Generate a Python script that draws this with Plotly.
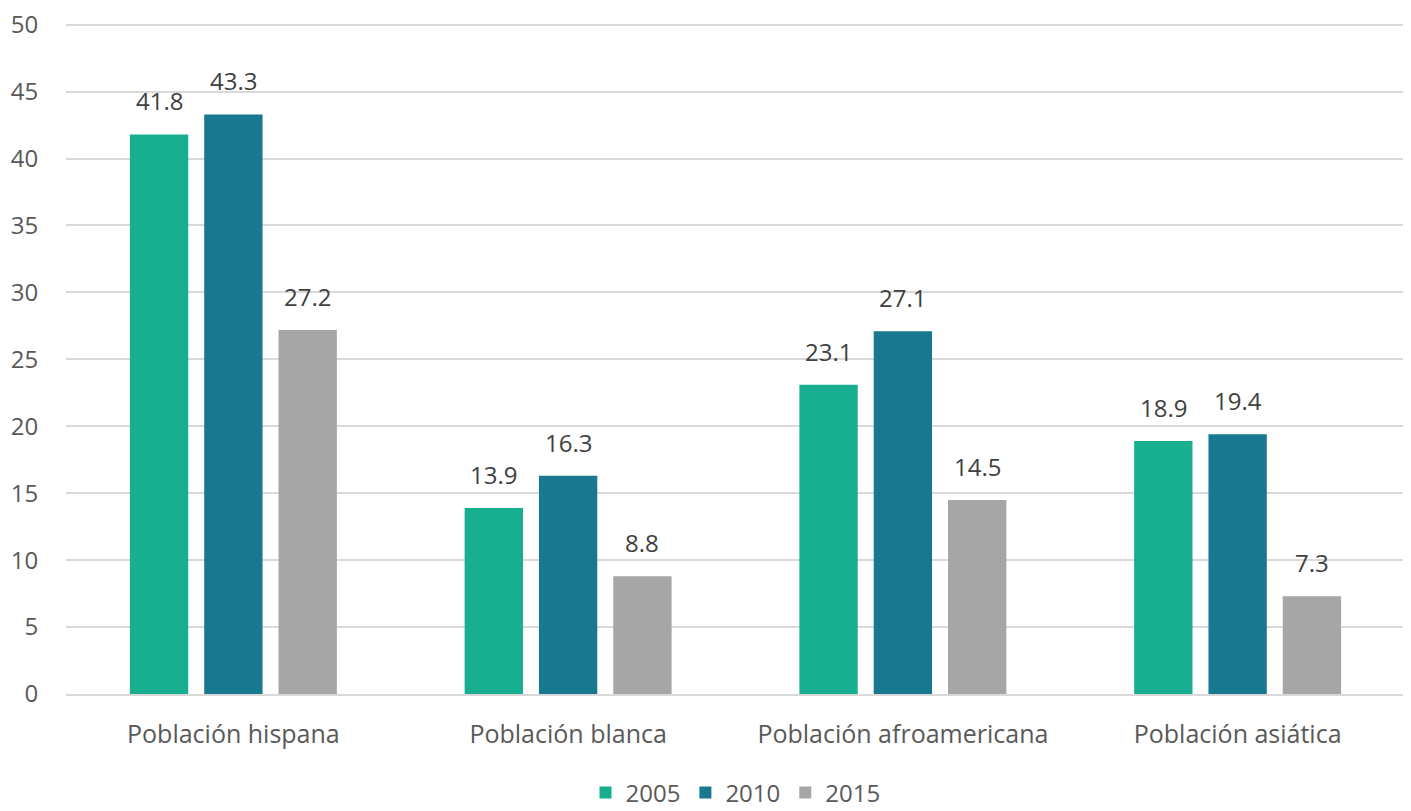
import plotly.graph_objects as go

categories = ["Población hispana", "Población blanca", "Población afroamericana", "Población asiática"]
years = ["2005", "2010", "2015"]
values_2005 = [41.8, 13.9, 23.1, 18.9]
values_2010 = [43.3, 16.3, 27.1, 19.4]
values_2015 = [27.2, 8.8, 14.5, 7.3]
colors = ["#17AF8F", "#17788F", "#A6A6A6"]
y_ticks = [0, 5, 10, 15, 20, 25, 30, 35, 40, 45, 50]

# page body has an 8px margin; figure sized to fit the window
W, H = 1403, 803
ML, MR, MT, MB = 58, 6, 10, 117
BARGAP, GROUPGAP = 0.334, 0.215
FONT = "Open Sans"

fig = go.Figure()
series = [values_2005, values_2010, values_2015]
for name, vals, col in zip(years, series, colors):
    fig.add_trace(go.Bar(
        x=categories, y=vals, name=name,
        marker=dict(color=col, line=dict(width=0)),
        hoverinfo="x+y+name",
    ))

# data labels as annotations, offset to each bar of the group
plot_w = W - ML - MR
slot = plot_w / len(categories) * (1 - BARGAP) / len(years)
annotations = []
for i, vals in enumerate(series):
    dx = (i - (len(years) - 1) / 2) * slot
    for c, v in zip(categories, vals):
        annotations.append(dict(
            x=c, y=v, xref="x", yref="y", text=f"{v:.1f}", showarrow=False,
            yanchor="bottom", xanchor="center", xshift=dx, yshift=15,
            font=dict(size=24, color="#404040", family=FONT),
        ))

fig.update_layout(
    width=W, height=H,
    paper_bgcolor="white", plot_bgcolor="white",
    barmode="group", bargap=BARGAP, bargroupgap=GROUPGAP,
    margin=dict(l=ML, r=MR, t=MT, b=MB, autoexpand=False),
    font=dict(family=FONT, color="#595959", size=24),
    annotations=annotations,
    showlegend=True,
    legend=dict(orientation="h", x=0.5, xanchor="center",
                yref="container", y=(H - 785) / H, yanchor="middle",
                font=dict(size=24, color="#595959"), traceorder="normal",
                itemwidth=30, bgcolor="rgba(0,0,0,0)"),
    xaxis=dict(showgrid=False, showline=True, linecolor="#D9D9D9", linewidth=2,
               ticks="outside", ticklen=17, tickcolor="rgba(0,0,0,0)", automargin=False,
               tickfont=dict(size=25, color="#595959")),
    yaxis=dict(range=[0, 50.5], tickmode="array", tickvals=y_ticks,
               showgrid=True, gridcolor="#D9D9D9", gridwidth=2, ticklabeloverflow="allow",
               zeroline=False, showline=False, ticks="outside", ticklen=22, automargin=False,
               tickcolor="rgba(0,0,0,0)", tickfont=dict(size=24, color="#595959")),
)
fig.write_html("out.html")
